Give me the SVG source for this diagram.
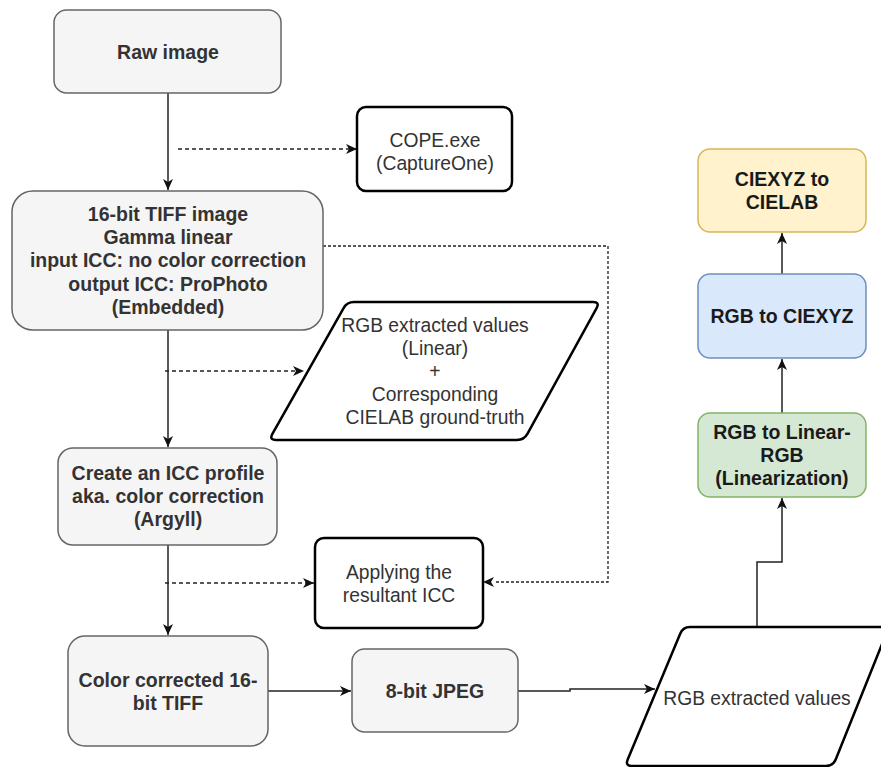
<svg xmlns="http://www.w3.org/2000/svg" width="881" height="767" viewBox="0 0 881 767">
<style>
text{font-family:"Liberation Sans",Arial,Helvetica,sans-serif;text-anchor:middle;fill:#333}
.b{font-weight:bold;font-size:19.5px}
.r{font-size:19.3px}
.k{fill:#1a1a1a}
.gray{fill:#f5f5f5;stroke:#666;stroke-width:1.5}
.white{fill:#fff;stroke:#000;stroke-width:2.5}
.edge{fill:none;stroke:#222;stroke-width:1.5}
.dash{fill:none;stroke:#222;stroke-width:1.5;stroke-dasharray:4 3}
.dot{fill:none;stroke:#222;stroke-width:1.3;stroke-dasharray:3 2}
</style>
<defs>
<marker id="arr" markerUnits="userSpaceOnUse" markerWidth="12" markerHeight="12" refX="11" refY="5" orient="auto">
<path d="M0,0 L11,5 L0,10 L3,5 Z" fill="#111" stroke="none"/>
</marker>
</defs>
<rect width="881" height="767" fill="#fff"/>
<g id="connectors">
<path class="edge" d="M168,93 V190" marker-end="url(#arr)"/>
<path class="dash" d="M178,149 H357" marker-end="url(#arr)"/>
<path class="edge" d="M168,330 V447" marker-end="url(#arr)"/>
<path class="dash" d="M165,371 H304" marker-end="url(#arr)"/>
<path class="dot" d="M323,246 H608 V582 H494"/>
<path d="M483,582 L494,577 L491,582 L494,587 Z" fill="#111"/>
<path class="edge" d="M168,545 V635" marker-end="url(#arr)"/>
<path class="dash" d="M165,583 H314" marker-end="url(#arr)"/>
<path class="edge" d="M268,691 H351" marker-end="url(#arr)"/>
<path class="edge" d="M518,691 H570 V689 H655" marker-end="url(#arr)"/>
<path class="edge" d="M757,627 V562 H782 V498" marker-end="url(#arr)"/>
<path class="edge" d="M782,413 V359" marker-end="url(#arr)"/>
<path class="edge" d="M782,274 V233" marker-end="url(#arr)"/>
</g>
<g id="raw">
<rect class="gray" x="54" y="10" width="227" height="83" rx="12.5"/>
<text class="b" x="168" y="59">Raw image</text>
</g>
<g id="cope">
<rect class="white" x="357" y="107" width="155" height="84" rx="9"/>
<text class="r" x="435" y="147">COPE.exe</text>
<text class="r" x="435" y="170">(CaptureOne)</text>
</g>
<g id="tiff16">
<rect class="gray" x="12" y="191" width="311" height="139" rx="21"/>
<text class="b" x="168" y="221">16-bit TIFF image</text>
<text class="b" x="168" y="244.2">Gamma linear</text>
<text class="b" x="168" y="267.4">input ICC: no color correction</text>
<text class="b" x="168" y="290.6">output ICC: ProPhoto</text>
<text class="b" x="168" y="313.8">(Embedded)</text>
</g>
<g id="rgbLinear">
<path class="white" d="M354,302 L593,302 Q600,302 596.6,308.1 L527.4,433.9 Q524,440 517,440 L276,440 Q269,440 272.4,433.9 L343.6,308.1 Q347,302 354,302 Z"/>
<text class="r" x="435" y="332">RGB extracted values</text>
<text class="r" x="435" y="355">(Linear)</text>
<text class="r" x="435" y="378">+</text>
<text class="r" x="435" y="401">Corresponding</text>
<text class="r" x="435" y="424">CIELAB ground-truth</text>
</g>
<g id="createIcc">
<rect class="gray" x="58" y="448" width="219" height="97" rx="15"/>
<text class="b" x="168" y="480">Create an ICC profile</text>
<text class="b" x="168" y="503">aka. color correction</text>
<text class="b" x="168" y="526">(Argyll)</text>
</g>
<g id="applying">
<rect class="white" x="315" y="538" width="168" height="90" rx="9"/>
<text class="r" x="399" y="578.5">Applying the</text>
<text class="r" x="399" y="601.5">resultant ICC</text>
</g>
<g id="corrected">
<rect class="gray" x="68" y="636" width="200" height="110" rx="17"/>
<text class="b" x="168" y="686.5">Color corrected 16-</text>
<text class="b" x="168" y="709.5">bit TIFF</text>
</g>
<g id="jpeg">
<rect class="gray" x="352" y="649" width="166" height="83" rx="12.5"/>
<text class="b" x="435" y="698">8-bit JPEG</text>
</g>
<g id="rgbValues">
<path class="white" d="M690,627 L882,627 Q889,627 886.3,633.5 L835.7,759.5 Q833,766 826,766 L632,766 Q625,766 627.7,759.5 L680.3,633.5 Q683,627 690,627 Z"/>
<text class="r" x="757" y="705">RGB extracted values</text>
</g>
<g id="linearize">
<rect x="698" y="413" width="168" height="84" rx="12" fill="#d5e8d4" stroke="#82b366" stroke-width="1.5"/>
<text class="b k" x="782" y="439">RGB to Linear-</text>
<text class="b k" x="782" y="462">RGB</text>
<text class="b k" x="782" y="485">(Linearization)</text>
</g>
<g id="xyz">
<rect x="698" y="274" width="168" height="84" rx="12" fill="#dae8fc" stroke="#6c8ebf" stroke-width="1.5"/>
<text class="b k" x="782" y="323">RGB to CIEXYZ</text>
</g>
<g id="lab">
<rect x="698" y="149" width="168" height="83" rx="12" fill="#fff2cc" stroke="#d6b656" stroke-width="1.5"/>
<text class="b k" x="782" y="186">CIEXYZ to</text>
<text class="b k" x="782" y="209">CIELAB</text>
</g>
</svg>
